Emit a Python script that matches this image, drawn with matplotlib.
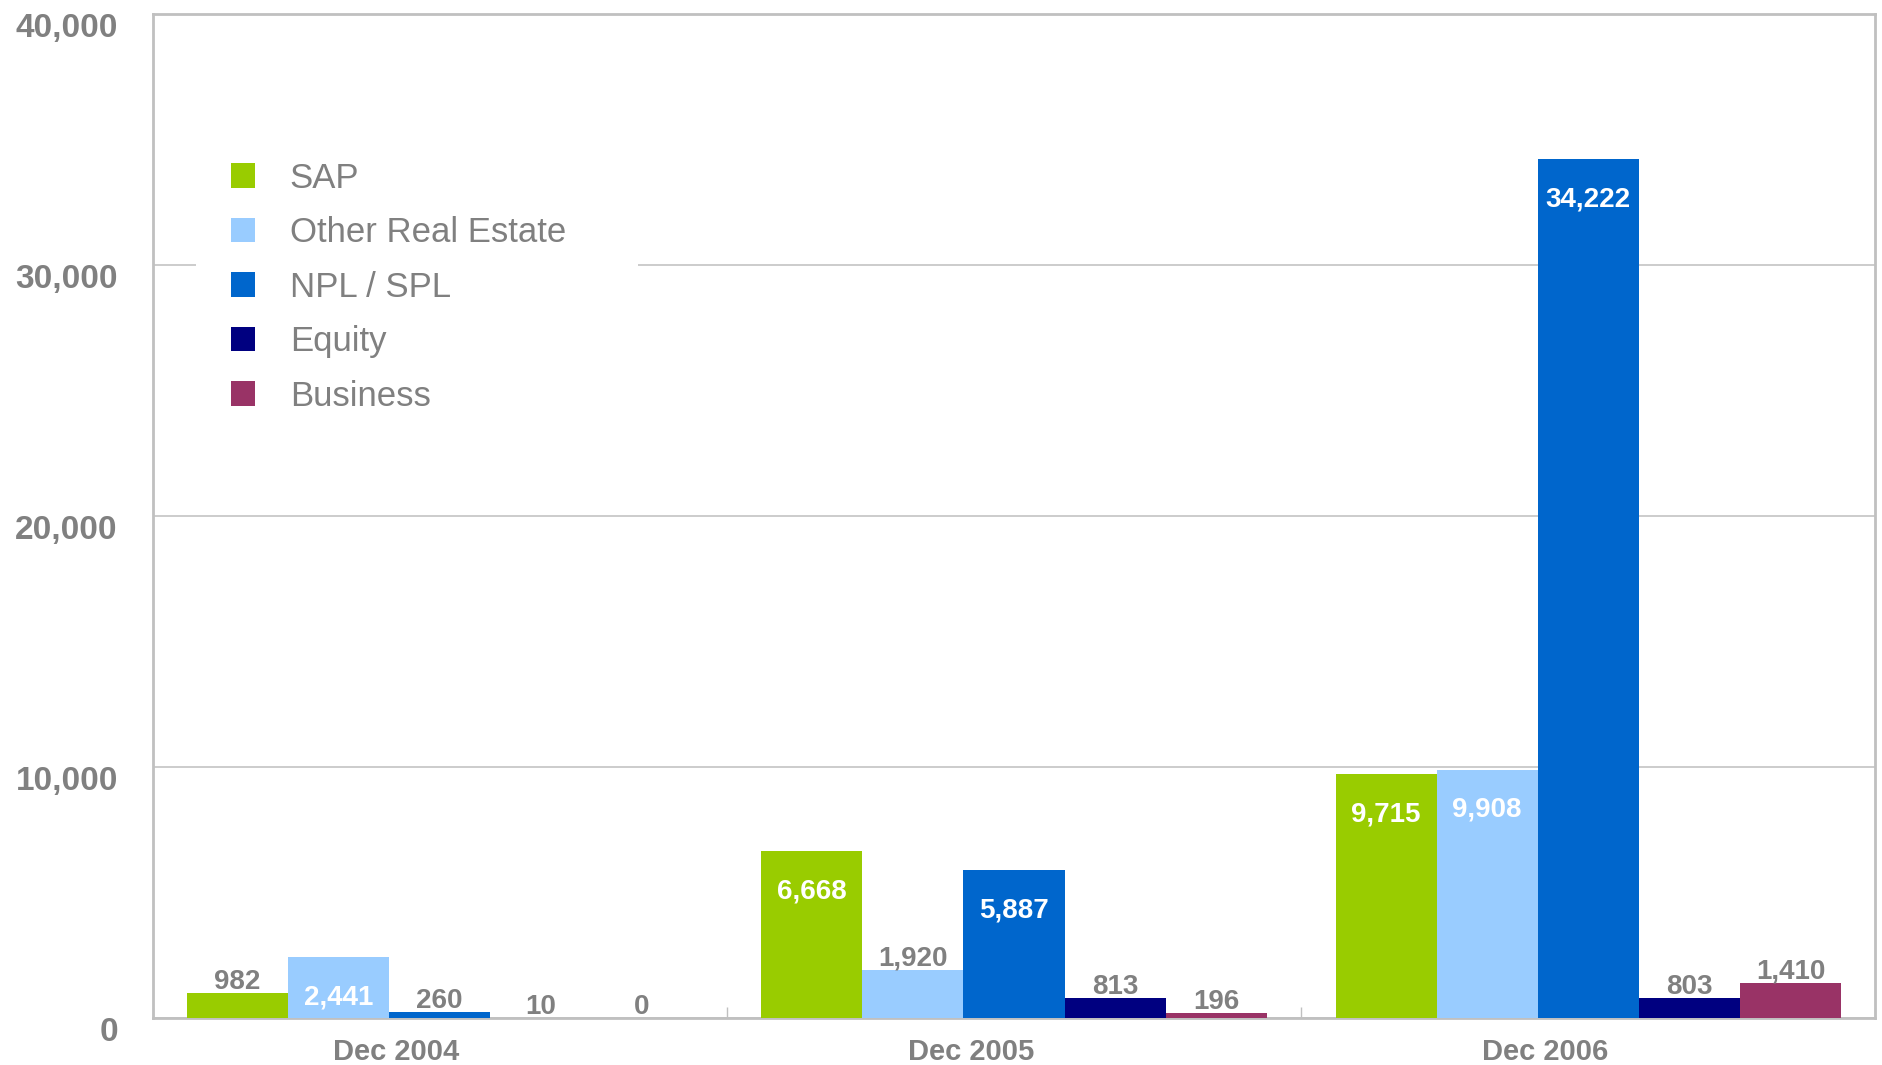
import numpy as np
import matplotlib
matplotlib.use("Agg")
from matplotlib import pyplot as plt
from matplotlib import transforms as mtransforms
from matplotlib.patches import Patch

# Balances by asset type at each year end
periods = ["Dec 2004", "Dec 2005", "Dec 2006"]
series = ["SAP", "Other Real Estate", "NPL / SPL", "Equity", "Business"]
sap = [982, 6668, 9715]
other_re = [2441, 1920, 9908]
npl_spl = [260, 5887, 34222]
equity = [10, 813, 803]
business = [0, 196, 1410]
yticks = [0, 10000, 20000, 30000, 40000]

values = [sap, other_re, npl_spl, equity, business]
colors = ["#99CC00", "#99CCFF", "#0066CC", "#000080", "#993366"]
grey = "#808080"

plt.rcParams["font.family"] = ["Liberation Sans", "DejaVu Sans"]

fig = plt.figure(figsize=(18.83, 10.65), dpi=100)
ax = fig.add_axes([0.081, 0.044, 0.915, 0.9425])

x = np.arange(len(periods))
w = 0.176
for k, (vals, col) in enumerate(zip(values, colors)):
    xs = x + (k - 2) * w
    ax.bar(xs, vals, width=w, color=col, linewidth=0, zorder=3)
    for xi, v in zip(xs, vals):
        if v > 2000:
            ax.annotate("{:,}".format(v), (xi, v), xytext=(0, -29),
                        textcoords="offset points", ha="center", va="center",
                        fontsize=20, fontweight="bold", color="white", zorder=4)
        else:
            ax.annotate("{:,}".format(v), (xi, v), xytext=(0, 8),
                        textcoords="offset points", ha="center", va="center",
                        fontsize=20, fontweight="bold", color=grey, zorder=4)

ax.set_xlim(-0.5, len(periods) - 0.5)
ax.set_ylim(0, 40000)

# y axis
ax.set_yticks(yticks)
ax.set_yticklabels(["{:,}".format(t) for t in yticks])
ax.tick_params(axis="y", length=0, pad=25, labelsize=24, labelcolor=grey)
shift = mtransforms.ScaledTranslation(0, -0.11, fig.dpi_scale_trans)
for lab in ax.get_yticklabels():
    lab.set_transform(lab.get_transform() + shift)
    lab.set_fontweight("bold")
ax.yaxis.grid(True, color="#C8C8C8", linewidth=1.3, zorder=0)

# x axis: labels sit a little left of the group centres, separators between groups
ax.set_xticks(x - 0.075)
ax.set_xticklabels(periods, fontsize=21, fontweight="bold", color=grey)
ax.tick_params(axis="x", length=0, pad=14)
ax.set_xticks(np.arange(len(periods) + 1) - 0.5, minor=True)
ax.tick_params(axis="x", which="minor", direction="in", length=8,
               color="#C0C0C0", width=1)

for sp in ax.spines.values():
    sp.set_color("#C0C0C0")
    sp.set_linewidth(2)

handles = [Patch(facecolor=c, edgecolor="none") for c in colors]
leg = ax.legend(handles, series, loc="upper left",
                bbox_to_anchor=(0.0252, 0.888, 0.2565, 0.0), mode="expand",
                borderaxespad=0, frameon=True, fancybox=False,
                fontsize=25, labelcolor=grey, handlelength=0.7,
                handleheight=0.7, handletextpad=1.0, labelspacing=0.62,
                borderpad=1.0)
leg.get_frame().set_edgecolor("none")
leg.get_frame().set_facecolor("white")
leg.get_frame().set_alpha(1)
leg.set_zorder(5)

fig.savefig("out.png", dpi=100)
